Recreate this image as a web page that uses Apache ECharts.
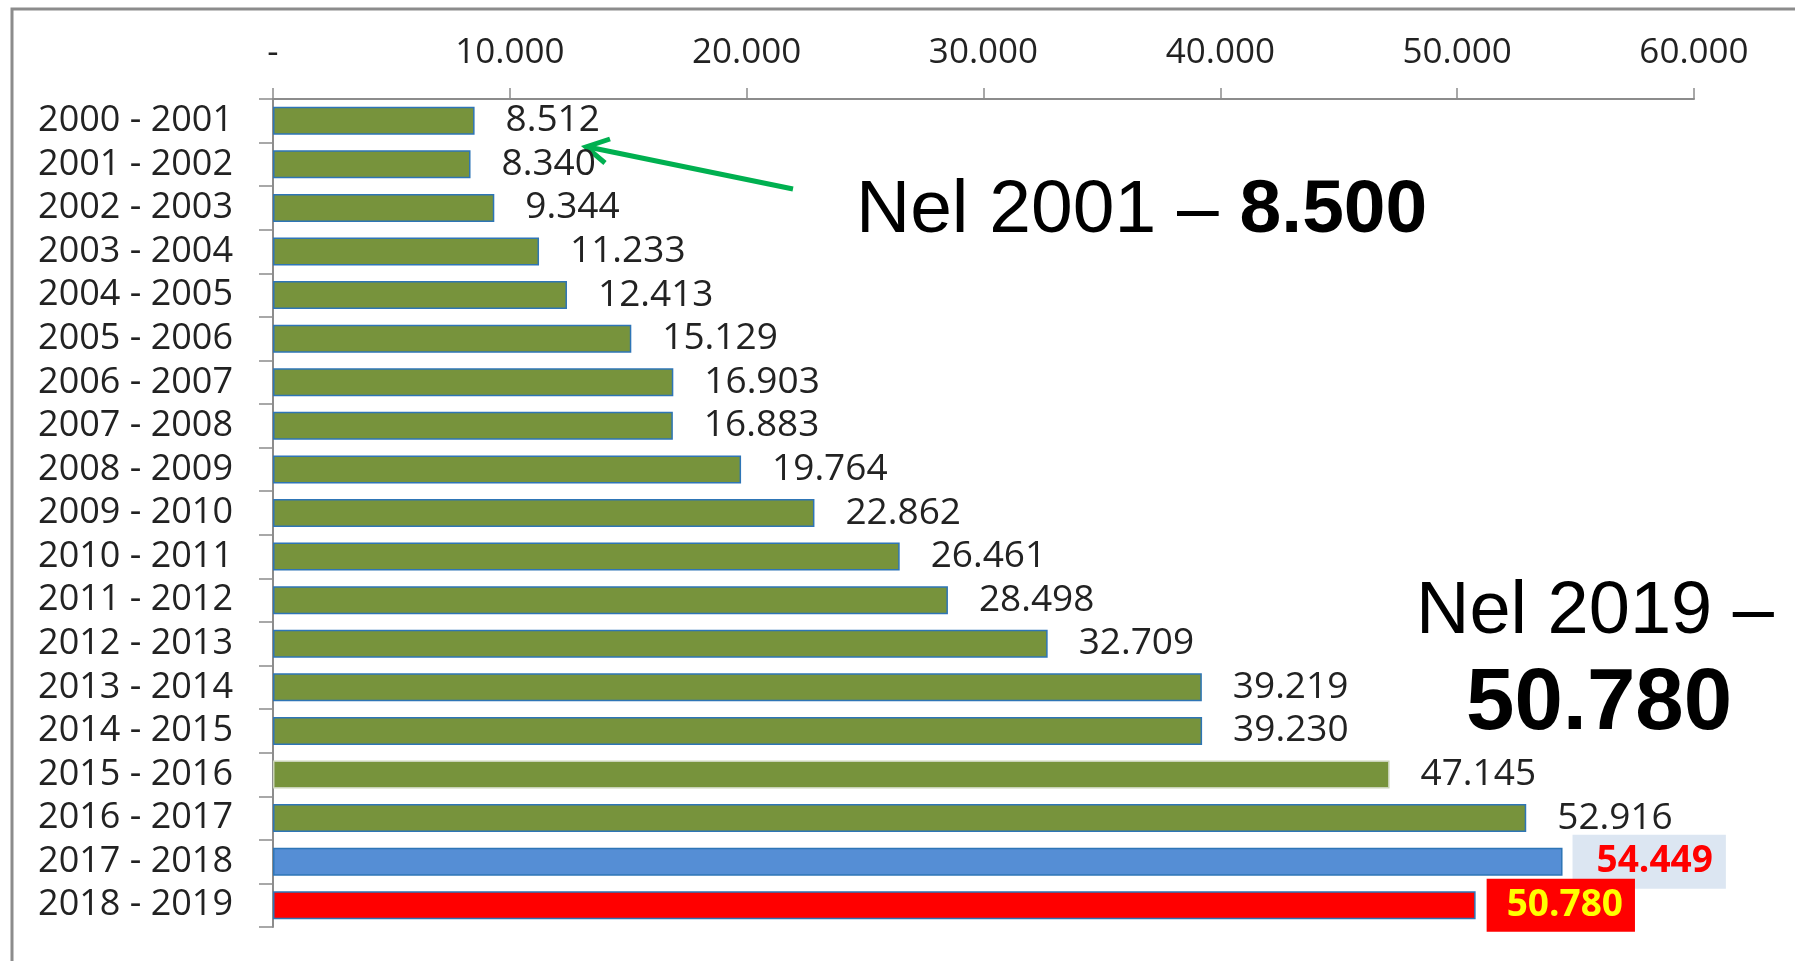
<!DOCTYPE html>
<html>
<head>
<meta charset="utf-8">
<script src="https://cdn.jsdelivr.net/npm/echarts@6/dist/echarts.min.js"></script>
<style>
html,body{margin:0;padding:0;background:#fff;}
#chart{width:1795px;height:961px;}
</style>
</head>
<body>
<div id="chart"></div>
<script>
const categories = ['2000 - 2001','2001 - 2002','2002 - 2003','2003 - 2004','2004 - 2005','2005 - 2006','2006 - 2007','2007 - 2008','2008 - 2009','2009 - 2010','2010 - 2011','2011 - 2012','2012 - 2013','2013 - 2014','2014 - 2015','2015 - 2016','2016 - 2017','2017 - 2018','2018 - 2019'];
const values = [8512,8340,9344,11233,12413,15129,16903,16883,19764,22862,26461,28498,32709,39219,39230,47145,52916,54449,50780];
const axisTicks = [0,10000,20000,30000,40000,50000,60000];
const note1 = ['Nel 2001 – ', '8.500'];
const note2 = ['Nel 2019 –', '50.780'];

const fmt = v => v === 0 ? '-' : String(v).replace(/\B(?=(\d{3})+(?!\d))/g, '.');
const FONT = '"Open Sans", sans-serif';
const AFONT = '"Liberation Sans", Arial, sans-serif';

const data = values.map((v, i) => {
  const item = { value: v };
  if (i === 17) {
    item.itemStyle = { color: '#558ED5', borderColor: '#2E75B6' };
    item.label = {
      color: '#FF0000', fontWeight: 'bold', fontSize: 37,
      backgroundColor: '#DCE6F2', padding: [7, 13, 7, 24], lineHeight: 40, distance: 10
    };
  } else if (i === 18) {
    item.itemStyle = { color: '#FF0000', borderColor: '#2E75B6' };
    item.label = {
      color: '#FFFF00', fontWeight: 'bold', fontSize: 37,
      backgroundColor: '#FF0000', padding: [6, 12, 7, 20], lineHeight: 40, distance: 11
    };
  } else if (i === 15) {
    item.itemStyle = { borderColor: '#C9D3B8' };
  }
  return item;
});

const chart = echarts.init(document.getElementById('chart'));
chart.setOption({
  animation: false,
  backgroundColor: '#fff',
  grid: { left: 273, right: 101, top: 99, bottom: 34, containLabel: false },
  xAxis: {
    type: 'value', position: 'top',
    min: axisTicks[0], max: axisTicks[axisTicks.length - 1], interval: axisTicks[1] - axisTicks[0],
    axisLine: { show: true, lineStyle: { color: '#8C8C8C', width: 2 } },
    axisTick: { show: true, length: 11, lineStyle: { color: '#8C8C8C', width: 1.5 } },
    splitLine: { show: false },
    axisLabel: { formatter: fmt, fontFamily: FONT, fontSize: 35, color: '#222', margin: 28 }
  },
  yAxis: {
    type: 'category', data: categories, inverse: true,
    axisLine: { show: true, lineStyle: { color: '#8C8C8C', width: 2 } },
    axisTick: { show: true, length: 14, interval: 0, lineStyle: { color: '#8C8C8C', width: 1.5 } },
    axisLabel: { interval: 0, hideOverlap: false, fontFamily: FONT, fontSize: 36, lineHeight: 36, color: '#222', margin: 40 }
  },
  series: [{
    type: 'bar', data: data, barWidth: 28,
    itemStyle: { color: '#77933C', borderColor: '#2E75B6', borderWidth: 1.5 },
    label: {
      show: true, position: 'right', distance: 31,
      formatter: p => fmt(p.value),
      fontFamily: FONT, fontSize: 37, color: '#222'
    },
    labelLayout: { hideOverlap: false }
  }],
  graphic: [
    { type: 'rect', shape: { x: 12, y: 9, width: 1900, height: 1000 },
      style: { fill: 'none', stroke: '#8C8C8C', lineWidth: 3 }, silent: true },
    { type: 'line', shape: { x1: 793, y1: 189, x2: 588, y2: 147 },
      style: { stroke: '#00B050', lineWidth: 5 } },
    { type: 'polyline', shape: { points: [[610, 139], [586, 147], [605, 163]] },
      style: { stroke: '#00B050', lineWidth: 5, fill: 'none' } },
    { type: 'text', left: 856, top: 174,
      style: { rich: { a: { fontFamily: AFONT, fontSize: 75, fill: '#000' },
                       b: { fontFamily: AFONT, fontSize: 75, fontWeight: 'bold', fill: '#000' } },
               text: '{a|' + note1[0] + '}{b|' + note1[1] + '}' } },
    { type: 'text', left: 1416, top: 576,
      style: { text: note2[0], fontFamily: AFONT, fontSize: 74, fill: '#000' } },
    { type: 'text', left: 1466, top: 662,
      style: { text: note2[1], fontFamily: AFONT, fontSize: 87, fontWeight: 'bold', fill: '#000' } }
  ]
});
</script>
</body>
</html>
